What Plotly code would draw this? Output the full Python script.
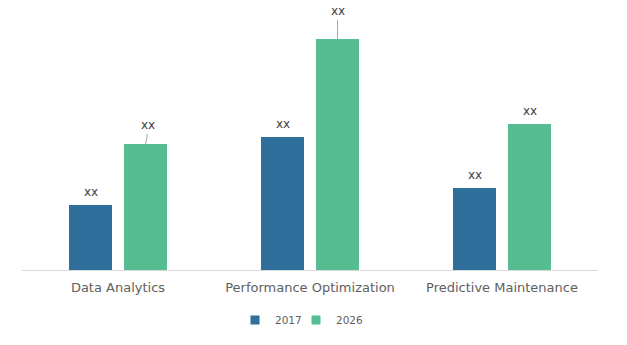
import plotly.graph_objects as go

categories = ["Data Analytics", "Performance Optimization", "Predictive Maintenance"]
series_names = ["2017", "2026"]
values_2017 = [65, 133, 82]
values_2026 = [126, 231, 146]
labels_2017 = ["xx", "xx", "xx"]
labels_2026 = ["xx", "xx", "xx"]
colors = ["#2E6F9B", "#57BC92"]

fig = go.Figure()
fig.add_trace(go.Bar(name=series_names[0], x=categories, y=values_2017, showlegend=False,
                     marker=dict(color=colors[0], line=dict(width=0))))
fig.add_trace(go.Bar(name=series_names[1], x=categories, y=values_2026, showlegend=False,
                     marker=dict(color=colors[1], line=dict(width=0))))
# legend entries (square markers), one legend box per series
legend_ids = ["legend", "legend2"]
for name, col, lg in zip(series_names, colors, legend_ids):
    fig.add_trace(go.Scatter(name=name, x=[None], y=[None], mode="markers", legend=lg,
                             marker=dict(symbol="square", size=9, color=col), showlegend=True))

bargap = 0.427
bargroupgap = 0.218
slot = (1 - bargap) / 2
offsets = [-slot / 2, slot / 2]
lead_2026 = [10, 19, 0]
lead_dx = [2, 0, 0]
lab_font = dict(family="DejaVu Sans", size=12, color="#404040")
annotations = []
for i, c in enumerate(categories):
    annotations.append(dict(x=i + offsets[0], y=values_2017[i], text=labels_2017[i],
                            showarrow=False, yshift=13, xref="x", yref="y", font=lab_font))
    if lead_2026[i] > 0:
        annotations.append(dict(x=i + offsets[1], y=values_2026[i], text=labels_2026[i],
                                showarrow=True, arrowhead=0, arrowwidth=1, arrowcolor="#A6A6A6",
                                ax=lead_dx[i], ay=-lead_2026[i],
                                standoff=0, startstandoff=0,
                                xanchor="center", yanchor="bottom", font=lab_font))
    else:
        annotations.append(dict(x=i + offsets[1], y=values_2026[i], text=labels_2026[i],
                                showarrow=False, yshift=13, xref="x", yref="y", font=lab_font))

legend_style = dict(orientation="h", xanchor="left", y=-0.2, yanchor="middle",
                    font=dict(family="DejaVu Sans", size=10.5, color="#606060"),
                    itemwidth=30, bgcolor="rgba(0,0,0,0)")

fig.update_layout(
    width=627, height=345,
    margin=dict(l=22, r=29, t=20, b=75, autoexpand=False),
    barmode="group", bargap=bargap, bargroupgap=bargroupgap,
    plot_bgcolor="white", paper_bgcolor="white",
    font=dict(family="DejaVu Sans", size=12, color="#606060"),
    showlegend=True,
    legend=dict(x=(235 - 22) / 576, **legend_style),
    legend2=dict(x=(296 - 22) / 576, **legend_style),
    annotations=annotations,
)
fig.update_xaxes(showline=True, linecolor="#D9D9D9", linewidth=1, ticks="outside", ticklen=5,
                 tickcolor="rgba(0,0,0,0)", automargin=False,
                 tickfont=dict(family="DejaVu Sans", size=13, color="#606060"), showgrid=False)
fig.update_yaxes(range=[0, 250], visible=False, showgrid=False, zeroline=False)

fig.write_html("out.html")
